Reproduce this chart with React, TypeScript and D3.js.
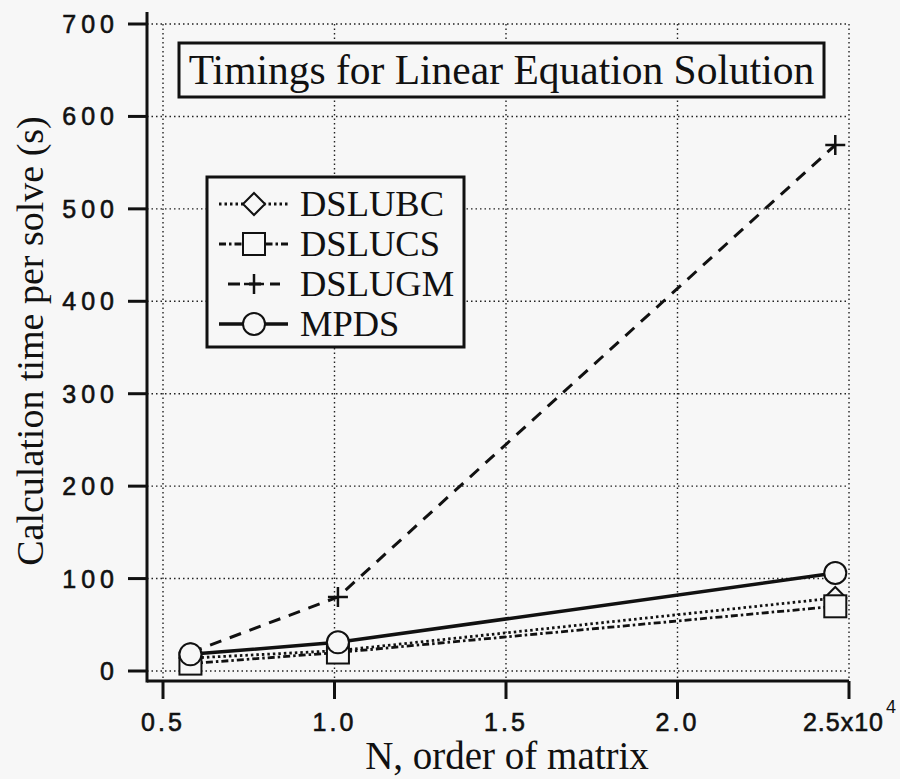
import React, { useRef, useEffect } from 'react';
import * as d3 from 'd3';

// N, order of matrix (x10^4)
const nValues = [0.58, 1.01, 2.46];
const seriesNames = ['DSLUBC', 'DSLUCS', 'DSLUGM', 'MPDS'];
const dslubc = [14, 22, 79];
const dslucs = [8, 20, 70];
const dslugm = [20, 80, 569];
const mpds = [18, 31, 106];

const xTicks = [0.5, 1.0, 1.5, 2.0, 2.5];
const xTickLabels = ['0.5', '1.0', '1.5', '2.0', '2.5x10'];
const yTicks = [0, 100, 200, 300, 400, 500, 600, 700];

const title = 'Timings for Linear Equation Solution';
const xTitle = 'N, order of matrix';
const yTitle = 'Calculation time per solve (s)';

const BG = '#f7f7f7';
const INK = '#111';

type Style = { dash: string; width: number; marker: string };
const styles: Style[] = [
  { dash: '2.5,3', width: 2.8, marker: 'diamond' },
  { dash: '7,3,2.5,3', width: 2.8, marker: 'square' },
  { dash: '12,9', width: 3, marker: 'plus' },
  { dash: '', width: 3.5, marker: 'circle' },
];

function drawMarker(g: d3.Selection<SVGGElement, unknown, null, undefined>, kind: string, cx: number, cy: number) {
  const m = g.append('g').attr('transform', `translate(${cx},${cy})`)
    .attr('fill', BG).attr('stroke', INK).attr('stroke-width', 2);
  if (kind === 'diamond') {
    m.append('path').attr('d', 'M0,-11L11,0L0,11L-11,0Z');
  } else if (kind === 'square') {
    m.append('rect').attr('x', -11).attr('y', -11).attr('width', 22).attr('height', 22);
  } else if (kind === 'circle') {
    m.append('circle').attr('r', 11);
  } else {
    m.append('path').attr('d', 'M-10,0H10M0,-10V10').attr('stroke-width', 2.5);
  }
}

const App = () => {
  const ref = useRef<SVGSVGElement>(null);

  useEffect(() => {
    const width = 900;
    const height = 779;
    const axisX = 147;
    const axisY = 681;

    const x = d3.scaleLinear().domain([0.5, 2.5]).range([163, 849]);
    const y = d3.scaleLinear().domain([0, 700]).range([671, 24]);

    const svg = d3.select(ref.current!);
    svg.selectAll('*').remove();
    svg.attr('width', width).attr('height', height).attr('viewBox', `0 0 ${width} ${height}`);

    svg.append('rect').attr('width', width).attr('height', height).attr('fill', BG);

    // grid
    const grid = svg.append('g').attr('stroke', '#222').attr('stroke-width', 1.4)
      .attr('stroke-dasharray', '1.5,3');
    yTicks.forEach(t => {
      grid.append('line').attr('x1', axisX).attr('x2', x(2.5)).attr('y1', y(t)).attr('y2', y(t));
    });
    xTicks.forEach(t => {
      grid.append('line').attr('x1', x(t)).attr('x2', x(t)).attr('y1', y(700)).attr('y2', axisY);
    });

    // axes
    const ax = svg.append('g').attr('stroke', INK).attr('stroke-width', 3);
    ax.append('line').attr('x1', axisX).attr('x2', axisX).attr('y1', 12).attr('y2', axisY + 1.5);
    ax.append('line').attr('x1', axisX).attr('x2', x(2.5)).attr('y1', axisY).attr('y2', axisY);
    yTicks.forEach(t => {
      ax.append('line').attr('x1', 128).attr('x2', axisX).attr('y1', y(t)).attr('y2', y(t));
    });
    xTicks.forEach(t => {
      ax.append('line').attr('x1', x(t)).attr('x2', x(t)).attr('y1', axisY).attr('y2', axisY + 18);
    });

    const tickFont = 'Liberation Sans, Arial, sans-serif';
    yTicks.forEach(t => {
      svg.append('text').attr('x', 119).attr('y', y(t) + 9)
        .attr('text-anchor', 'end').attr('font-family', tickFont).attr('font-size', 25)
        .attr('letter-spacing', 5).attr('fill', INK).attr('stroke', INK).attr('stroke-width', 0.6)
        .text(String(t));
    });
    xTicks.forEach((t, i) => {
      const last = i === xTicks.length - 1;
      svg.append('text').attr('x', last ? 884 : x(t)).attr('y', 731)
        .attr('text-anchor', last ? 'end' : 'middle').attr('font-family', tickFont).attr('font-size', 25)
        .attr('letter-spacing', last ? 1 : 3).attr('fill', INK).attr('stroke', INK).attr('stroke-width', 0.6)
        .text(xTickLabels[i]);
      if (last) {
        svg.append('text').attr('x', 886).attr('y', 713)
          .attr('font-family', tickFont).attr('font-size', 18).attr('fill', INK).text('4');
      }
    });

    const serif = 'Liberation Serif, Times New Roman, serif';
    svg.append('text').attr('x', 507).attr('y', 769).attr('text-anchor', 'middle')
      .attr('font-family', serif).attr('font-size', 39).attr('fill', INK).text(xTitle);
    svg.append('text').attr('transform', `translate(43,${341}) rotate(-90)`).attr('text-anchor', 'middle')
      .attr('font-family', serif).attr('font-size', 38).attr('fill', INK).text(yTitle);

    // series
    const all = [dslubc, dslucs, dslugm, mpds];
    const line = d3.line<number>().x((_, i) => x(nValues[i])).y(d => y(d));
    all.forEach((vals, si) => {
      const s = styles[si];
      svg.append('path').attr('d', line(vals)!).attr('fill', 'none').attr('stroke', INK)
        .attr('stroke-width', s.width).attr('stroke-dasharray', s.dash || null);
    });
    all.forEach((vals, si) => {
      const g = svg.append('g');
      vals.forEach((v, i) => drawMarker(g, styles[si].marker, x(nValues[i]), y(v)));
    });

    // title box
    svg.append('rect').attr('x', 179).attr('y', 43).attr('width', 645).attr('height', 54)
      .attr('fill', BG).attr('stroke', INK).attr('stroke-width', 3);
    svg.append('text').attr('x', 501.5).attr('y', 84).attr('text-anchor', 'middle')
      .attr('font-family', serif).attr('font-size', 41.5).attr('fill', INK).text(title);

    // legend
    const lg = svg.append('g');
    lg.append('rect').attr('x', 207).attr('y', 177).attr('width', 257).attr('height', 170)
      .attr('fill', BG).attr('stroke', INK).attr('stroke-width', 3);
    seriesNames.forEach((name, i) => {
      const cy = 204 + i * 40;
      const s = styles[i];
      const x1 = s.marker === 'plus' ? 228 : 219;
      const x2 = s.marker === 'plus' ? 280 : 288;
      lg.append('line').attr('x1', x1).attr('x2', x2).attr('y1', cy).attr('y2', cy)
        .attr('stroke', INK).attr('stroke-width', s.width).attr('stroke-dasharray', s.dash || null);
      drawMarker(lg, s.marker, 254, cy);
      lg.append('text').attr('x', 300).attr('y', cy + 12).attr('font-family', serif)
        .attr('font-size', 36.5).attr('fill', INK).text(name);
    });
  }, []);

  return <svg ref={ref} style={{ position: 'absolute', left: 0, top: 0, display: 'block' }}></svg>;
};

export default App;
